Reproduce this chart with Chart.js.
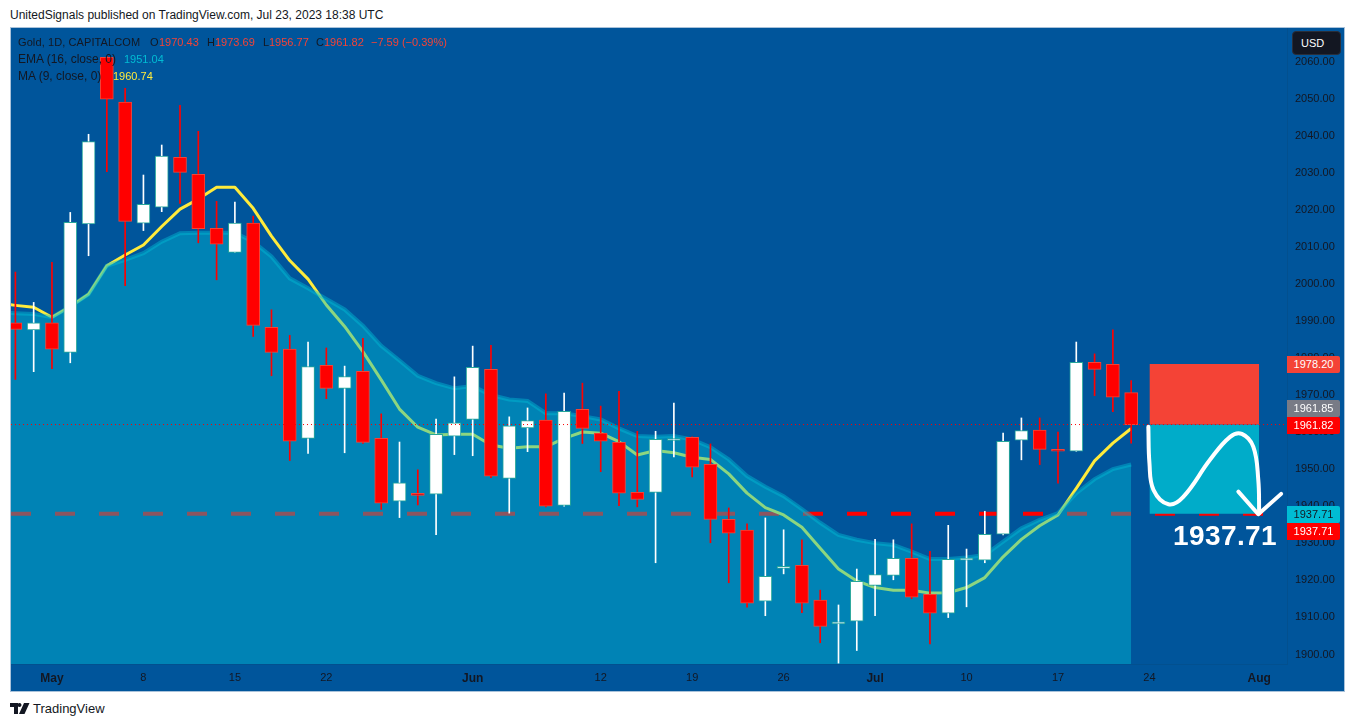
<!DOCTYPE html>
<html><head><meta charset="utf-8">
<script src="https://cdn.jsdelivr.net/npm/chart.js@4"></script>
<style>
html,body{margin:0;padding:0;background:#fff;width:1355px;height:727px;overflow:hidden}
body{font-family:"Liberation Sans",sans-serif;color:#131722;position:relative}
.abs{position:absolute;white-space:nowrap}
#frame{left:10px;top:27px;width:1335px;height:665px;box-sizing:border-box;border:1px solid #a9c2da;background:#00559b}
#wrap{left:11px;top:28px;width:1333px;height:663px}
canvas{display:block}
.leg{font-size:11px;line-height:14px;color:#131722}
.r{color:#f44336}
.tag{left:1287px;width:53px;height:17px;line-height:17px;font-size:11px;text-align:center;color:#fff;border-radius:0 2px 2px 0}
</style></head><body>
<div class="abs" style="left:10px;top:8px;font-size:12px;line-height:14px">UnitedSignals published on TradingView.com, Jul 23, 2023 18:38 UTC</div>
<div class="abs" id="frame"></div>
<div class="abs" id="wrap"><canvas id="c" width="1333" height="663"></canvas></div>
<div class="abs leg" style="left:18px;top:35px;letter-spacing:.1px">Gold, 1D, CAPITALCOM</div>
<div class="abs leg" style="left:150px;top:35px">O</div><div class="abs leg r" style="left:159px;top:35px">1970.43</div>
<div class="abs leg" style="left:207px;top:35px">H</div><div class="abs leg r" style="left:215px;top:35px">1973.69</div>
<div class="abs leg" style="left:263px;top:35px">L</div><div class="abs leg r" style="left:269px;top:35px">1956.77</div>
<div class="abs leg" style="left:316px;top:35px">C</div><div class="abs leg r" style="left:324px;top:35px">1961.82</div>
<div class="abs leg r" style="left:371px;top:35px">−7.59 (−0.39%)</div>
<div class="abs leg" style="left:18px;top:52px;font-size:12px">EMA (16, close, 0)</div>
<div class="abs leg" style="left:124px;top:52px;color:#00bcd4">1951.04</div>
<div class="abs leg" style="left:18px;top:69px;font-size:12px">MA (9, close, 0)</div>
<div class="abs leg" style="left:113px;top:69px;color:#ffeb3b">1960.74</div>
<div class="abs" style="left:1292px;top:31px;width:49px;height:24px;line-height:22px;background:#131722;border:1px solid #2a2e39;box-sizing:border-box;border-radius:4px;color:#fff;font-size:11px;padding-left:8px">USD</div>
<div class="abs tag" style="top:356px;background:#f44336">1978.20</div>
<div class="abs tag" style="top:400px;background:#787b86">1961.85</div>
<div class="abs tag" style="top:417px;background:#ff0000">1961.82</div>
<div class="abs tag" style="top:506px;background:#00bcd4;color:#131722">1937.71</div>
<div class="abs tag" style="top:523px;background:#ff0000">1937.71</div>
<div class="abs" style="left:1173px;top:520px;font-size:28px;line-height:32px;font-weight:bold;color:#fff;letter-spacing:.4px">1937.71</div>
<svg class="abs" style="left:10px;top:703px" width="20" height="12" viewBox="0 0 20 12"><path fill="#131722" d="M0 0H8V11H4V4H0ZM9.5 0A2 2 0 1 1 9.49 0ZM14 0H19.5L14.5 11H9Z"/></svg>
<div class="abs" style="left:33px;top:701px;font-size:13px;line-height:16px">TradingView</div>
<script>
const xTickIndex = [2,7,12,17,25,32,37,42,47,52,57,62,68];
const xTickLabels = ["May","8","15","22","Jun","12","19","26","Jul","10","17","24","Aug"];
const boldXLabels = ["May","Jun","Jul","Aug"];
const yTickValues = [1900,1910,1920,1930,1940,1950,1960,1970,1980,1990,2000,2010,2020,2030,2040,2050,2060];
const openValues = [1989.3,1987.4,1989.3,1981.3,2016,2061,2048.9,2016.2,2020.5,2034,2029.4,2014.8,2008.3,2016.2,1988.1,1982.2,1958.1,1977.8,1971.6,1976.2,1958.1,1941.1,1942.9,1943,1958.7,1963.2,1976.7,1947.3,1960.9,1963,1940,1965.9,1959.5,1957,1943.5,1943.5,1957.5,1958.4,1951.1,1936.2,1933.3,1914.1,1923,1923.8,1914.4,1908,1908.7,1918.4,1921.1,1925.7,1916,1910.9,1925.2,1925.2,1932.2,1957.6,1960.3,1954.8,1954.6,1978.6,1978.1,1970.43];
const highValues = [2003,1994.8,2005.6,2019.1,2040.2,2061.2,2052.6,2029.2,2037.3,2048,2041,2022.1,2021.9,2018.1,1992.8,1985.9,1984.1,1982.5,1977.6,1985.1,1964.7,1957.1,1949.6,1963.3,1974.7,1983,1983.2,1963.9,1966.3,1970.1,1970.3,1973,1966.8,1970.8,1960,1960,1967.6,1958.5,1956.6,1939.3,1935,1936.6,1933.4,1930.7,1917.1,1913.1,1922.8,1930.8,1930.7,1935,1927.6,1934.6,1928.2,1938.4,1959.5,1963.6,1963.6,1959.8,1984.1,1980.9,1987.4,1973.69];
const lowValues = [1974,1976.1,1976.9,1978.5,2007.4,2030.1,1999.3,2014.2,2019.3,2021.5,2010.9,2000.9,2008.3,1985.6,1975,1952.1,1954,1968.8,1954.2,1956.7,1938.9,1936.7,1940.1,1932.1,1953.7,1953.4,1947.5,1937.9,1954.5,1939.6,1939.8,1956.7,1949.1,1939.9,1939.6,1924.5,1953.1,1947.7,1929.9,1919.1,1912.5,1910.2,1921.5,1911,1902.9,1897.4,1900.8,1910.2,1919.9,1914.8,1902.6,1909.7,1912.6,1924.5,1932,1952.3,1951,1946,1954.6,1969.6,1965.3,1956.77];
const closeValues = [1987.5,1989.3,1982.2,2016.4,2038.2,2049.7,2016.7,2021.3,2034.3,2029.9,2014.7,2010.5,2016.2,1988.6,1981.3,1957.3,1977.5,1971.6,1974.8,1957,1940.6,1946.1,1942.7,1959.2,1962.3,1977.3,1947.9,1961.5,1962.9,1939.8,1965.4,1960.8,1957.3,1943.3,1941.6,1957.8,1957.7,1950.3,1936.2,1932.5,1913.6,1920.8,1923.2,1913.6,1907.3,1908.2,1919.5,1921.3,1925.7,1915.2,1910.9,1925.4,1925.4,1932.2,1957.3,1960.2,1955.1,1954.6,1978.6,1976.7,1969.2,1961.82];
// moving averages: first entry is the bar just off the left edge (index -1)
const maValues = [1994.6,1994,1993.5,1990.8,1993.7,1997,2004.7,2007.6,2010.3,2015.3,2020,2022.7,2025.9,2025.9,2020.2,2012.7,2006.1,2001.1,1994.1,1988.3,1981.5,1973.9,1966,1961.1,1959,1959.2,1959.2,1956.3,1955.4,1955.8,1955.8,1958.1,1959.8,1959.5,1957.2,1953.6,1954.8,1954.2,1953,1952.4,1948.5,1943.3,1939.4,1937.4,1934.1,1928.4,1922.8,1919.6,1917.8,1917.1,1917.1,1916.3,1916.4,1917.8,1920.5,1926.1,1930.8,1934.5,1937.4,1944.6,1952,1956.8,1960.74];
const emaValues = [1992,1991.9,1991.7,1990.8,1993.7,1997,2004.7,2006.3,2008.1,2011.2,2013.5,2013.6,2013.6,2013.6,2011.2,2007.2,2001.3,1998.6,1995.7,1992.9,1988.5,1983.1,1979.1,1975,1973,1971.6,1972.2,1969.8,1968.6,1968.2,1964.9,1964.9,1964.1,1963.2,1960.8,1958.7,1958.5,1958.7,1957.8,1955.7,1952.4,1947.9,1945,1942.5,1939,1935.3,1932,1930.7,1929.8,1929.3,1927.5,1925.5,1925.5,1925.9,1926.6,1930.2,1933.8,1936.1,1937.9,1943.3,1947.1,1949.8,1951.04];
const targetPrice = 1937.71, lastPrice = 1961.82, boxTop = 1978.20;
const boxStart = 62, boxEnd = 68;
const curveIndex = [61.94,62.0,62.22,63.04,63.85,65.31,66.41,67.05,67.68,67.95,68.0];
const curvePrice = [1961.2,1951.4,1944.2,1940.3,1942.3,1952.3,1958.5,1959.3,1955.8,1946.9,1937.9];
const arrowIndex = [66.86,67.95,69.2];
const arrowPrice = [1943.7,1937.6,1943.1];

const X_MIN=-0.24, X_MAX=69.52, Y_MIN=1897.16, Y_MAX=2068.9;
const RED='#ff0000', REDB='#f44336', TEAL='#26a69a';
const idx = closeValues.map((_,i)=>i);
const up = idx.map(i=>closeValues[i]>=openValues[i]);
const pts = (xs,ys)=>xs.map((x,i)=>({x,y:ys[i]}));
const lineBase = {type:'line',pointRadius:0,pointHoverRadius:0,fill:false};
const noPad = s=>{s.paddingTop=0;s.paddingBottom=0;s.paddingLeft=0;s.paddingRight=0;};

new Chart(document.getElementById('c'),{
  data:{datasets:[
    {...lineBase,order:10,data:[{x:X_MIN,y:targetPrice},{x:X_MAX,y:targetPrice}],borderColor:RED,borderWidth:4,borderDash:[20,24]},
    {...lineBase,order:9,data:maValues.map((v,i)=>({x:i-1,y:v})),borderColor:'#ffeb3b',borderWidth:3,borderJoinStyle:'round'},
    {...lineBase,order:8,data:emaValues.map((v,i)=>({x:i-1,y:v})),borderColor:'rgba(0,188,212,0.45)',borderWidth:4,fill:'start',backgroundColor:'rgba(0,188,212,0.45)'},
    {...lineBase,order:7,data:[{x:boxStart,y:boxTop},{x:boxEnd,y:boxTop}],borderWidth:0,borderColor:'transparent',fill:{value:lastPrice},backgroundColor:'#f44336'},
    {...lineBase,order:7,data:[{x:boxStart,y:lastPrice},{x:boxEnd,y:lastPrice}],borderWidth:0,borderColor:'transparent',fill:{value:targetPrice},backgroundColor:'#00acc9'},
    {type:'bar',order:4,grouped:false,barThickness:1,data:idx.map(i=>({x:i,y:[lowValues[i],highValues[i]]})),backgroundColor:up.map(u=>u?'#ffffff':RED),borderWidth:0},
    {type:'bar',order:3,grouped:false,barThickness:13,minBarLength:2,borderSkipped:false,borderWidth:1,data:idx.map(i=>({x:i,y:[openValues[i],closeValues[i]]})),backgroundColor:up.map(u=>u?'#ffffff':RED),borderColor:up.map(u=>u?TEAL:REDB)},
    {...lineBase,order:2,data:pts(curveIndex,curvePrice),borderColor:'#fff',borderWidth:4,tension:0.4,borderCapStyle:'round'},
    {...lineBase,order:2,data:pts(arrowIndex,arrowPrice),borderColor:'#fff',borderWidth:4,borderCapStyle:'round',borderJoinStyle:'round'},
    {...lineBase,order:1,data:[{x:X_MIN,y:lastPrice},{x:X_MAX,y:lastPrice}],borderColor:RED,borderWidth:1,borderDash:[1,3]}
  ]},
  options:{
    responsive:false,animation:false,events:[],
    layout:{padding:0},
    plugins:{legend:{display:false},tooltip:{enabled:false},title:{display:false}},
    scales:{
      x:{type:'linear',min:X_MIN,max:X_MAX,offset:false,
        grid:{display:false,drawTicks:false},
        border:{display:true,color:'#02508f',width:1},
        afterBuildTicks(s){s.ticks=xTickIndex.map(v=>({value:v}));},
        afterFit(s){s.height=27;noPad(s);},
        ticks:{autoSkip:false,maxRotation:0,padding:7,color:'#131722',
          font:c=>{const b=c.tick&&boldXLabels.includes(xTickLabels[xTickIndex.indexOf(c.tick.value)]);return {family:'"Liberation Sans"',size:b?12:11,weight:b?'bold':'normal'};},
          callback:v=>xTickLabels[xTickIndex.indexOf(v)]}
      },
      y:{type:'linear',position:'right',min:Y_MIN,max:Y_MAX,
        grid:{display:false,drawTicks:false},
        border:{display:true,color:'#02508f',width:1},
        afterBuildTicks(s){s.ticks=yTickValues.map(v=>({value:v}));},
        afterFit(s){s.width=57;noPad(s);},
        ticks:{autoSkip:false,padding:8,labelOffset:1,color:'#131722',font:{family:'"Liberation Sans"',size:11},callback:v=>v.toFixed(2)}
      }
    }
  }
});
</script>
</body></html>
